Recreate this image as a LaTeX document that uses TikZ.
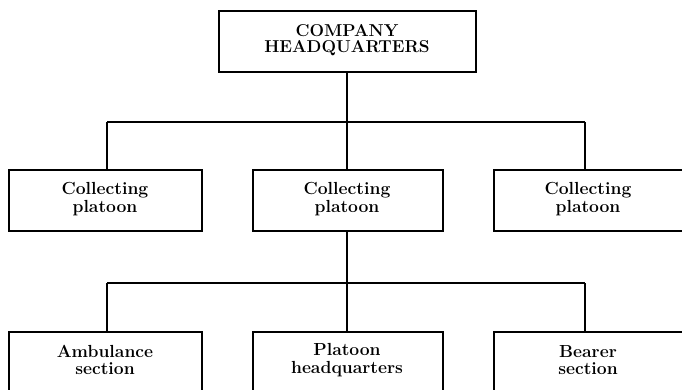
\documentclass[tikz,border=0pt]{standalone}
\begin{document}
\begin{tikzpicture}[x=1pt,y=-1pt,
  box/.style={draw=black,line width=1.7pt,rectangle,inner sep=0pt,anchor=north west},
  lbl/.style={align=center,inner sep=0pt,font=\fontsize{17.5}{17.5}\selectfont\bfseries},
  conn/.style={draw=black,line width=1.5pt}]
\useasboundingbox (0,0) rectangle (682,390);
\clip (0,0) rectangle (682,390);
% top box
\node[box,minimum width=257pt,minimum height=61pt] (hq) at (218,10) {};
\node[lbl,font=\fontsize{17.2}{16}\selectfont\bfseries] (hqt) at (347,40) {COMPANY\\HEADQUARTERS};
% row 2
\node[box,minimum width=193pt,minimum height=61pt] (cp1) at (8,169) {};
\node[box,minimum width=190pt,minimum height=61pt] (cp2) at (252,169) {};
\node[box,minimum width=196pt,minimum height=61pt] (cp3) at (493,169) {};
\node[lbl] (cp1t) at (105,199) {Collecting\\platoon};
\node[lbl] (cp2t) at (347,199) {Collecting\\platoon};
\node[lbl] (cp3t) at (588,199) {Collecting\\platoon};
% row 3
\node[box,minimum width=193pt,minimum height=80pt] (amb) at (8,331) {};
\node[box,minimum width=190pt,minimum height=80pt] (phq) at (252,331) {};
\node[box,minimum width=196pt,minimum height=80pt] (bea) at (493,331) {};
\node[lbl] (ambt) at (105,360) {Ambulance\\section};
\node[lbl] (phqt) at (347,360) {Platoon\\headquarters};
\node[lbl] (beat) at (588,360) {Bearer\\section};
% junctions
\coordinate (j1) at (347,122);
\coordinate (l1) at (107,122);
\coordinate (r1) at (585,122);
\coordinate (j2) at (347,283);
\coordinate (l2) at (107,283);
\coordinate (r2) at (585,283);
% connectors
\draw[conn] (hq.south -| j1) -- (j1);
\draw[conn] (l1) -- (r1);
\draw[conn] (l1) -- (l1 |- cp1.north);
\draw[conn] (j1) -- (j1 |- cp2.north);
\draw[conn] (r1) -- (r1 |- cp3.north);
\draw[conn] (cp2.south -| j2) -- (j2);
\draw[conn] (l2) -- (r2);
\draw[conn] (l2) -- (l2 |- amb.north);
\draw[conn] (j2) -- (j2 |- phq.north);
\draw[conn] (r2) -- (r2 |- bea.north);
\end{tikzpicture}
\end{document}
